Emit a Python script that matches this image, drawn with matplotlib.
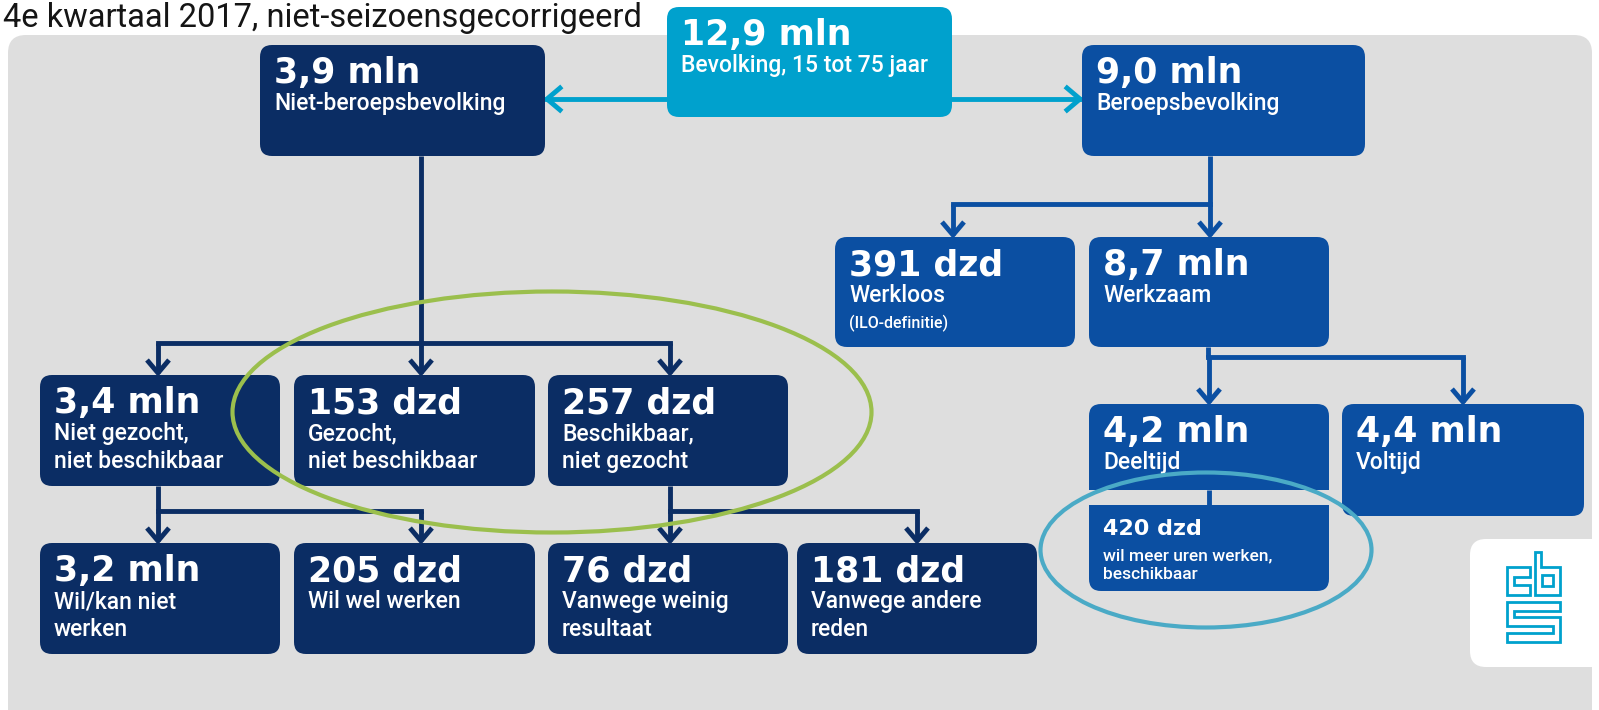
import matplotlib
matplotlib.use("Agg")
import matplotlib.pyplot as plt
from matplotlib.patches import FancyBboxPatch, Rectangle, Ellipse, Polygon

# ---------------- data ----------------
TITLE = "4e kwartaal 2017, niet-seizoensgecorrigeerd"
node_ids = ["pop", "nbb", "bb", "wl", "wz", "ng", "gz", "bs",
            "dt", "vt", "mu", "wk", "ww", "wr", "ar"]
node_values = ["12,9 mln", "3,9 mln", "9,0 mln", "391 dzd", "8,7 mln",
               "3,4 mln", "153 dzd", "257 dzd", "4,2 mln", "4,4 mln",
               "420 dzd", "3,2 mln", "205 dzd", "76 dzd", "181 dzd"]
node_labels = [["Bevolking, 15 tot 75 jaar"], ["Niet-beroepsbevolking"],
               ["Beroepsbevolking"], ["Werkloos"], ["Werkzaam"],
               ["Niet gezocht,", "niet beschikbaar"], ["Gezocht,", "niet beschikbaar"],
               ["Beschikbaar,", "niet gezocht"], ["Deeltijd"], ["Voltijd"],
               ["wil meer uren werken,", "beschikbaar"], ["Wil/kan niet", "werken"],
               ["Wil wel werken"], ["Vanwege weinig", "resultaat"],
               ["Vanwege andere", "reden"]]
node_notes = {"wl": "(ILO-definitie)"}
tree_groups = [("nbb", ["ng", "gz", "bs"]), ("bb", ["wl", "wz"]),
               ("wz", ["dt", "vt"]), ("ng", ["wk", "ww"]), ("bs", ["wr", "ar"])]

# ---------------- layout / style (pixels) ----------------
W, H = 1599, 710
NAVY, BLUE, LIGHT = "#0b2d64", "#0b4fa2", "#00a1cd"
box = {  # x0, x1, y0, y1
    "pop": (667, 952, 7, 117), "nbb": (260, 545, 45, 156), "bb": (1082, 1365, 45, 156),
    "wl": (835, 1075, 237, 347), "wz": (1089, 1329, 237, 347),
    "ng": (40, 280, 375, 486), "gz": (294, 535, 375, 486), "bs": (548, 788, 375, 486),
    "dt": (1089, 1329, 404, 490), "vt": (1342, 1584, 404, 516), "mu": (1089, 1329, 505, 591),
    "wk": (40, 280, 543, 654), "ww": (294, 535, 543, 654),
    "wr": (548, 788, 543, 654), "ar": (797, 1037, 543, 654),
}
color = {"pop": LIGHT, "nbb": NAVY, "ng": NAVY, "gz": NAVY, "bs": NAVY, "wk": NAVY,
         "ww": NAVY, "wr": NAVY, "ar": NAVY, "bb": BLUE, "wl": BLUE, "wz": BLUE,
         "dt": BLUE, "vt": BLUE, "mu": BLUE}
drop_x = {"nbb": 421, "bb": 1210, "wz": 1208, "ng": 158, "bs": 670}
branch_y = {"nbb": 343, "bb": 204, "wz": 357, "ng": 511, "bs": 511}
arrow_x = {"ng": 158, "gz": 421, "bs": 670, "wl": 953, "wz": 1210, "dt": 1209,
           "vt": 1463, "wk": 158, "ww": 421, "wr": 670, "ar": 917}

SANS = ["Roboto", "DejaVu Sans"]
NUMF = ["DejaVu Sans"]
LW = 3.5

fig = plt.figure(figsize=(W / 100, H / 100), dpi=100)
ax = fig.add_axes([0, 0, 1, 1])
ax.set_xlim(0, W)
ax.set_ylim(H, 0)
ax.axis("off")
fig.patch.set_facecolor("white")

# grey panel
ax.add_patch(FancyBboxPatch((8, 35), 1584, 720, boxstyle="round,pad=0,rounding_size=18",
                            fc="#dedede", ec="none", zorder=0))

ax.text(3, 27, TITLE, fontsize=23.5, family=SANS, color="#151515", va="baseline", zorder=5)


def vline(x, y0, y1, c):
    ax.plot([x, x], [y0, y1], color=c, lw=LW, solid_capstyle="butt", zorder=2)


def chev_down(x, ytip, c):
    ax.plot([x - 11, x, x + 11], [ytip - 13, ytip, ytip - 13], color=c, lw=LW,
            solid_joinstyle="miter", solid_capstyle="butt", zorder=2)


# top light-blue arrows
yA = 99
ax.plot([box["pop"][0], box["nbb"][1] + 2], [yA, yA], color=LIGHT, lw=LW, zorder=2)
ax.plot([box["nbb"][1] + 15, box["nbb"][1] + 2, box["nbb"][1] + 15], [yA - 11, yA, yA + 11],
        color=LIGHT, lw=LW, solid_joinstyle="miter", zorder=2)
ax.plot([box["pop"][1], box["bb"][0] - 2], [yA, yA], color=LIGHT, lw=LW, zorder=2)
ax.plot([box["bb"][0] - 15, box["bb"][0] - 2, box["bb"][0] - 15], [yA - 11, yA, yA + 11],
        color=LIGHT, lw=LW, solid_joinstyle="miter", zorder=2)

# tree connectors
for parent, children in tree_groups:
    c = color[parent]
    px = drop_x[parent]
    by = branch_y[parent]
    vline(px, box[parent][3], by, c)
    xs = [arrow_x[ch] for ch in children] + [px]
    ax.plot([min(xs), max(xs)], [by, by], color=c, lw=LW, solid_capstyle="projecting", zorder=2)
    for ch in children:
        ax_ = arrow_x[ch]
        tip = box[ch][2] - 2
        vline(ax_, by, tip, c)
        chev_down(ax_, tip, c)

# dt -> mu connector
vline(1209, box["dt"][3], box["mu"][2], BLUE)

# boxes and texts
for nid, val, labs in zip(node_ids, node_values, node_labels):
    x0, x1, y0, y1 = box[nid]
    c = color[nid]
    ax.add_patch(FancyBboxPatch((x0, y0), x1 - x0, y1 - y0,
                                boxstyle="round,pad=0,rounding_size=12",
                                fc=c, ec="none", zorder=3))
    if nid == "dt":
        ax.add_patch(Rectangle((x0, y1 - 14), x1 - x0, 14, fc=c, ec="none", zorder=3))
    if nid == "mu":
        ax.add_patch(Rectangle((x0, y0), x1 - x0, 14, fc=c, ec="none", zorder=3))
    tx = x0 + 14
    if nid == "mu":
        ax.text(tx, y0 + 30, val, fontsize=16, weight="bold", family=NUMF,
                color="white", va="baseline", zorder=4)
        for i, l in enumerate(labs):
            ax.text(tx, y0 + 55 + 19 * i, l, fontsize=12.5, weight="medium", family=SANS,
                    color="white", va="baseline", zorder=4)
    else:
        ax.text(tx, y0 + 38, val, fontsize=25, weight="bold", family=NUMF,
                color="white", va="baseline", zorder=4)
        for i, l in enumerate(labs):
            ax.text(tx, y0 + 65 + 28 * i, l, fontsize=16.5, weight="medium", family=SANS,
                    color="white", va="baseline", zorder=4)
    if nid in node_notes:
        ax.text(tx, y0 + 91, node_notes[nid], fontsize=11.5, weight="medium", family=SANS,
                color="white", va="baseline", zorder=4)

# highlight ellipses
ax.add_patch(Ellipse((552, 412), 639, 241, fill=False, ec="#9bbf4d", lw=3, zorder=6))
ax.add_patch(Ellipse((1206, 550), 331, 155, fill=False, ec="#4aaac6", lw=3, zorder=6))

# CBS logo
ax.add_patch(FancyBboxPatch((1470, 539), 160, 128, boxstyle="round,pad=0,rounding_size=16",
                            fc="white", ec="none", zorder=3))
gx, gy, gw, gh = 1507, 552, 53, 90


def glyph(pts):
    ax.add_patch(Polygon([(gx + u * gw, gy + v * gh) for u, v in pts], closed=True,
                         fill=False, ec=LIGHT, lw=2, joinstyle="miter", zorder=4))


glyph([(0, 0.17), (0.44, 0.17), (0.44, 0.28), (0.14, 0.28), (0.14, 0.37),
       (0.44, 0.37), (0.44, 0.48), (0, 0.48)])
glyph([(0.52, 0), (0.64, 0), (0.64, 0.17), (1, 0.17), (1, 0.48), (0.52, 0.48)])
glyph([(0.66, 0.26), (0.86, 0.26), (0.86, 0.38), (0.66, 0.38)])
glyph([(0, 0.55), (1, 0.55), (1, 0.65), (0.14, 0.65), (0.14, 0.72), (1, 0.72),
       (1, 1), (0, 1), (0, 0.9), (0.86, 0.9), (0.86, 0.82), (0, 0.82)])

fig.savefig("out.png", dpi=100, facecolor="white")
